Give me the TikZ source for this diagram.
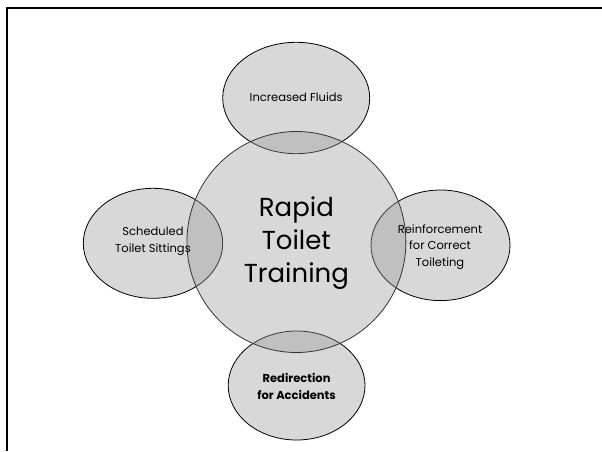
\documentclass[tikz,border=0pt]{standalone}
\usepackage{fontspec}
\setmainfont{Poppins}
\begin{document}
\begin{tikzpicture}[x=1pt,y=-1pt,
  bub/.style={draw=black, line width=0.8pt, fill=bubfill, fill opacity=0.38},
  lbl/.style={align=center, text=black, font=\fontsize{11.5}{16.5}\selectfont},
]
\definecolor{bubfill}{RGB}{154,154,154}
\useasboundingbox (0,0) rectangle (602,451);
\fill[white] (0,0) rectangle (602,451);
\draw[line width=2pt] (7,451) -- (7,8) coordinate (fc) -- (602,8);
% shapes
\draw[bub] (296.2,98) ellipse [x radius=73.5, y radius=55.7];
\draw[bub] (153,243.3) ellipse [x radius=69.7, y radius=55];
\draw[bub] (440.5,245.3) ellipse [x radius=69.5, y radius=55.3];
\draw[bub] (296.6,385.5) ellipse [x radius=68.4, y radius=54.5];
\draw[bub, draw=black!80] (296.4,242) ellipse [x radius=109.5, y radius=110.5];
% texts
\node[lbl] (fl) at (296.2,97) {Increased Fluids};
\node[lbl] (st) at (153,241.5) {Scheduled\\Toilet Sittings};
\node[lbl] (rc) at (440,247) {Reinforcement\\for Correct\\Toileting};
\node[lbl, font=\bfseries\fontsize{11.5}{16.5}\selectfont] (ra) at (296.6,386.5) {Redirection\\for Accidents};
\node[align=center, font=\fontsize{26}{33}\selectfont] (rt) at (296.4,243) {Rapid\\Toilet\\Training};
\end{tikzpicture}
\end{document}
